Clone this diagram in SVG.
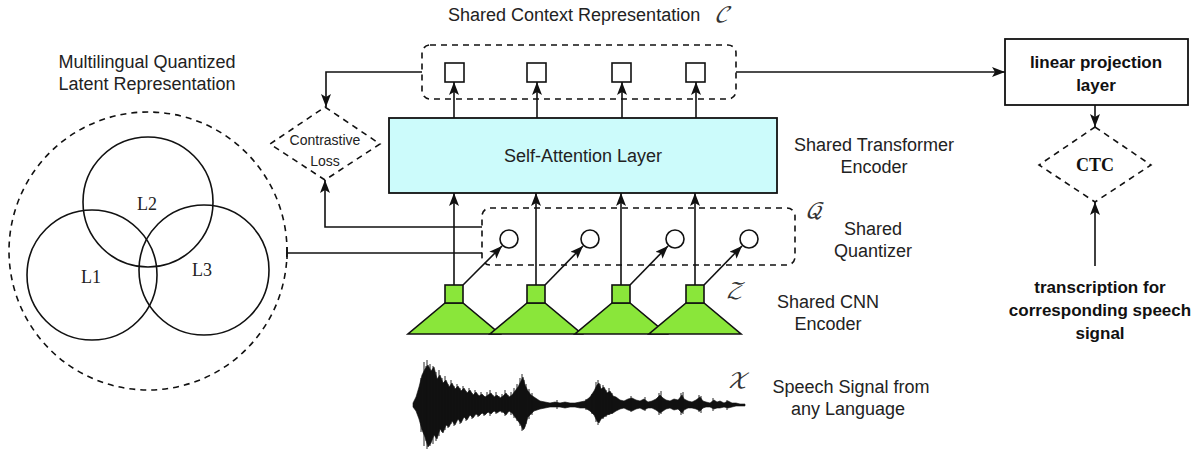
<svg xmlns="http://www.w3.org/2000/svg" width="1198" height="450" viewBox="0 0 1198 450">
  <style>
    .lbl { font-family: "Liberation Sans", Arial, sans-serif; font-size: 18px; fill: #222; }
    .small { font-family: "Liberation Sans", Arial, sans-serif; font-size: 14px; fill: #222; }
    .bold { font-family: "Liberation Sans", Arial, sans-serif; font-size: 17px; font-weight: bold; fill: #111; }
    .serif { font-family: "Liberation Serif", "Times New Roman", serif; font-size: 18px; fill: #222; }
    .math { font-family: "DejaVu Math TeX Gyre", "DejaVu Serif", "Liberation Serif", serif; font-style: italic; font-size: 21px; fill: #333; }
    .dash { fill: none; stroke: #111; stroke-width: 1.6; stroke-dasharray: 6 5; }
    .solid { fill: none; stroke: #111; stroke-width: 1.6; }
    .edge { fill: none; stroke: #111; stroke-width: 1.6; }
    .arrow { fill: none; stroke: #111; stroke-width: 1.6; marker-end: url(#head); }
    .cnn { fill: #8ae63a; stroke: #111; stroke-width: 1.6; }
  </style>
  <defs>
    <marker id="head" viewBox="0 0 13 10" refX="13" refY="5" markerWidth="13" markerHeight="10" markerUnits="userSpaceOnUse" orient="auto">
      <path d="M0,0 L13,5 L0,10 L3,5 Z" fill="#111"/>
    </marker>
  </defs>

  <rect width="1198" height="450" fill="#ffffff"/>

  <!-- multilingual latent space: dashed boundary with three language sets -->
  <g id="latent-space">
    <text class="lbl" x="147" y="68" text-anchor="middle">Multilingual Quantized</text>
    <text class="lbl" x="147" y="90" text-anchor="middle">Latent Representation</text>
    <circle class="dash" cx="148" cy="251" r="139"/>
    <circle class="solid" cx="148" cy="202" r="65"/>
    <circle class="solid" cx="92" cy="275" r="65"/>
    <circle class="solid" cx="204" cy="270" r="65"/>
    <text class="serif" x="147" y="210" text-anchor="middle">L2</text>
    <text class="serif" x="91" y="283" text-anchor="middle">L1</text>
    <text class="serif" x="202" y="276" text-anchor="middle">L3</text>
  </g>

  <!-- contrastive loss -->
  <g id="contrastive-loss">
    <polygon class="dash" points="325,107 380,144 325,180 270,144"/>
    <text class="small" x="325" y="145" text-anchor="middle">Contrastive</text>
    <text class="small" x="325" y="166" text-anchor="middle">Loss</text>
  </g>

  <!-- shared context representation -->
  <g id="context">
    <text class="lbl" x="448" y="21">Shared Context Representation</text>
    <text class="math" x="714" y="22">𝒞</text>
    <rect class="dash" x="422" y="45" width="314" height="54" rx="8"/>
    <rect class="solid" x="445" y="63" width="19" height="19" fill="#fff"/>
    <rect class="solid" x="527" y="63" width="19" height="19" fill="#fff"/>
    <rect class="solid" x="612" y="63" width="19" height="19" fill="#fff"/>
    <rect class="solid" x="686" y="63" width="19" height="19" fill="#fff"/>
  </g>

  <!-- transformer encoder -->
  <g id="transformer">
    <rect x="389" y="118" width="388" height="75" fill="#ccfbfb" stroke="#111" stroke-width="1.8"/>
    <text class="lbl" x="583" y="162" text-anchor="middle">Self-Attention Layer</text>
    <text class="lbl" x="874" y="151" text-anchor="middle">Shared Transformer</text>
    <text class="lbl" x="874" y="173" text-anchor="middle">Encoder</text>
  </g>

  <!-- quantizer -->
  <g id="quantizer">
    <rect class="dash" x="482" y="208" width="313" height="57" rx="8"/>
    <circle class="solid" cx="509" cy="239" r="9" fill="#fff"/>
    <circle class="solid" cx="590" cy="239" r="9" fill="#fff"/>
    <circle class="solid" cx="675" cy="239" r="9" fill="#fff"/>
    <circle class="solid" cx="749" cy="239" r="9" fill="#fff"/>
    <text class="math" x="805" y="218">𝒬</text>
    <text class="lbl" x="873" y="235" text-anchor="middle">Shared</text>
    <text class="lbl" x="873" y="257" text-anchor="middle">Quantizer</text>
  </g>

  <!-- CNN feature encoder -->
  <g id="cnn-encoder">
    <polygon class="cnn" points="445,303 463,303 500,334 408,334"/>
    <polygon class="cnn" points="527,303 545,303 582,334 490,334"/>
    <polygon class="cnn" points="612,303 630,303 667,334 575,334"/>
    <polygon class="cnn" points="686,303 704,303 741,334 649,334"/>
    <rect class="cnn" x="445" y="285" width="18" height="18"/>
    <rect class="cnn" x="527" y="285" width="18" height="18"/>
    <rect class="cnn" x="612" y="285" width="18" height="18"/>
    <rect class="cnn" x="686" y="285" width="18" height="18"/>
    <text class="math" x="726" y="298">𝒵</text>
    <text class="lbl" x="828" y="308" text-anchor="middle">Shared CNN</text>
    <text class="lbl" x="828" y="330" text-anchor="middle">Encoder</text>
  </g>

  <!-- raw speech waveform: envelope plus individual peaks -->
  <g id="waveform">
    <path fill="#111" stroke="#111" stroke-width="0.6" d="M413,403 L416,397 L419,387 L422,375 L425,369 L428,365 L431,371 L434,367 L437,379 L440,375 L443,383 L446,380 L449,387 L452,383 L455,389 L458,386 L461,391 L464,388 L467,393 L470,390 L473,395 L476,392 L479,396 L482,394 L485,397 L488,395 L491,393 L494,397 L497,395 L500,398 L503,396 L506,393 L509,397 L512,395 L515,391 L518,387 L521,381 L523,377 L525,385 L528,391 L531,395 L534,397 L537,399 L540,401 L545,402 L550,403 L555,402 L560,403 L565,402 L570,403 L575,403 L580,402 L585,401 L590,397 L594,391 L597,385 L599,383 L601,389 L604,387 L607,393 L610,391 L613,396 L616,397 L620,400 L624,401 L628,399 L632,398 L636,400 L640,401 L644,399 L648,402 L652,401 L656,399 L660,395 L663,398 L666,400 L670,401 L674,399 L678,400 L682,395 L684,399 L688,401 L692,402 L696,400 L700,397 L703,401 L706,402 L710,403 L714,400 L717,402 L720,401 L724,403 L728,401 L732,403 L736,403 L740,404 L745,404 L745,406 L740,406 L736,406 L732,407 L728,408 L724,407 L720,408 L717,408 L714,409 L710,407 L706,407 L703,408 L700,411 L696,409 L692,408 L688,408 L684,410 L682,413 L678,409 L674,410 L670,408 L666,409 L663,411 L660,413 L656,410 L652,408 L648,408 L644,410 L640,408 L636,409 L632,411 L628,410 L624,408 L620,409 L616,411 L613,413 L610,414 L607,415 L604,417 L601,419 L599,423 L597,421 L594,415 L590,411 L585,408 L580,408 L575,407 L570,407 L565,408 L560,407 L555,407 L550,407 L545,408 L540,409 L537,410 L534,411 L531,414 L528,417 L525,427 L523,430 L521,425 L518,421 L515,417 L512,413 L509,411 L506,415 L503,412 L500,411 L497,413 L494,411 L491,414 L488,412 L485,415 L482,413 L479,416 L476,414 L473,418 L470,415 L467,420 L464,417 L461,423 L458,419 L455,425 L452,421 L449,427 L446,425 L443,433 L440,429 L437,439 L434,435 L431,443 L428,447 L425,437 L422,430 L419,419 L416,411 L413,407 Z"/>
    <path fill="none" stroke="#111" stroke-width="0.9" d="M421,378 V432 M424,362 V446 M426,366 V441 M427,360 V449 M430,364 V446 M433,366 V444 M436,372 V441 M439,370 V436 M442,378 V432 M445,376 V430 M448,384 V428 M451,380 V424 M454,386 V426 M457,384 V420 M460,388 V424 M463,386 V418 M466,391 V421 M469,388 V416 M472,393 V419 M475,390 V414 M478,395 V417 M481,392 V414 M484,396 V416 M487,392 V413 M490,390 V416 M493,395 V412 M496,392 V414 M499,396 V411 M502,394 V413 M505,390 V416 M508,395 V412 M511,392 V415 M514,388 V418 M517,384 V421 M520,378 V426 M522,374 V431 M524,380 V429 M526,384 V424 M529,389 V419 M532,393 V415 M557,400 V409 M586,399 V410 M592,394 V414 M596,382 V422 M598,380 V425 M600,384 V420 M603,385 V419 M606,390 V417 M609,388 V415 M612,393 V414 M631,396 V412 M645,397 V411 M659,393 V415 M661,391 V414 M681,393 V415 M683,392 V414 M699,395 V412 M701,396 V413 M713,398 V411 M727,400 V410"/>
    <text class="math" x="727" y="388">𝒳</text>
    <text class="lbl" x="851" y="393" text-anchor="middle">Speech Signal from</text>
    <text class="lbl" x="848" y="415" text-anchor="middle">any Language</text>
  </g>

  <!-- linear projection -->
  <g id="projection">
    <rect x="1005" y="39" width="183" height="66" fill="#fff" stroke="#111" stroke-width="1.8"/>
    <text class="bold" x="1096" y="68" text-anchor="middle">linear projection</text>
    <text class="bold" x="1096" y="91" text-anchor="middle">layer</text>
  </g>

  <!-- CTC loss -->
  <g id="ctc">
    <polygon class="dash" points="1095,127 1151,165 1095,202 1039,165"/>
    <text x="1095" y="171" text-anchor="middle" style="font-family: 'Liberation Serif', 'Times New Roman', serif; font-size: 18px; font-weight: bold; fill: #111;">CTC</text>
  </g>

  <!-- transcription target -->
  <g id="transcription">
    <text class="bold" x="1100" y="293" text-anchor="middle">transcription for</text>
    <text class="bold" x="1100" y="316" text-anchor="middle">corresponding speech</text>
    <text class="bold" x="1100" y="339" text-anchor="middle">signal</text>
  </g>

  <!-- connectors -->
  <g id="connectors">
    <!-- transformer outputs to context vectors -->
    <line class="arrow" x1="454" y1="118" x2="454" y2="82"/>
    <line class="arrow" x1="537" y1="118" x2="537" y2="82"/>
    <line class="arrow" x1="622" y1="118" x2="622" y2="82"/>
    <line class="arrow" x1="696" y1="118" x2="696" y2="82"/>
    <!-- CNN features into the transformer -->
    <line class="arrow" x1="454" y1="285" x2="454" y2="193"/>
    <line class="arrow" x1="536" y1="285" x2="536" y2="193"/>
    <line class="arrow" x1="621" y1="285" x2="621" y2="193"/>
    <line class="arrow" x1="695" y1="285" x2="695" y2="193"/>
    <!-- CNN features into the quantizer -->
    <line class="arrow" x1="463" y1="285" x2="502" y2="246"/>
    <line class="arrow" x1="545" y1="285" x2="583" y2="246"/>
    <line class="arrow" x1="630" y1="285" x2="668" y2="246"/>
    <line class="arrow" x1="704" y1="285" x2="742" y2="246"/>
    <!-- context to contrastive loss -->
    <polyline class="arrow" points="422,72 326,72 326,107"/>
    <!-- quantizer to contrastive loss -->
    <polyline class="arrow" points="482,227 325,227 325,180"/>
    <!-- quantizer to latent space -->
    <line class="edge" x1="482" y1="253" x2="287" y2="253"/>
    <line class="edge" x1="287" y1="247" x2="287" y2="259"/>
    <!-- context to projection -->
    <line class="arrow" x1="736" y1="72" x2="1005" y2="72"/>
    <!-- projection to CTC -->
    <line class="arrow" x1="1095" y1="105" x2="1095" y2="127"/>
    <!-- transcription to CTC -->
    <line class="arrow" x1="1095" y1="266" x2="1095" y2="202"/>
  </g>
</svg>
